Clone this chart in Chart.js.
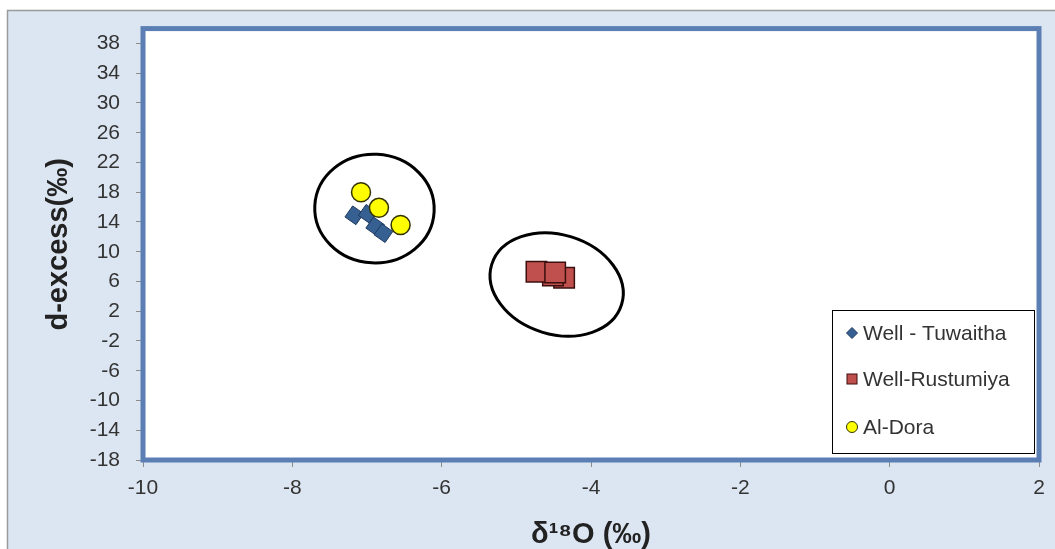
<!DOCTYPE html>
<html>
<head>
<meta charset="utf-8">
<script src="https://cdn.jsdelivr.net/npm/chart.js@4/dist/chart.umd.min.js"></script>
<style>
  html, body { margin: 0; padding: 0; background: #fff; }
  #wrap { width: 1055px; height: 549px; }
</style>
</head>
<body>
<div id="wrap"><canvas id="chart"></canvas></div>
<script>
// values
const seriesNames = ['Well - Tuwaitha', 'Well-Rustumiya', 'Al-Dora'];

const tuwaithaX = [-7.17, -6.99, -6.89, -6.78];
const tuwaithaY = [14.9, 15.1, 13.4, 12.5];

const rustumiyaX = [-4.36, -4.51, -4.73, -4.48];
const rustumiyaY = [6.5, 6.8, 7.3, 7.2];

const doraX = [-7.08, -6.84, -6.55];
const doraY = [18.0, 15.9, 13.6];

const xTicks = [-10, -8, -6, -4, -2, 0, 2];
const yTicks = [-18, -14, -10, -6, -2, 2, 6, 10, 14, 18, 22, 26, 30, 34, 38];

// group ellipses (data units)
const ellipseCx = [-6.90, -4.46];
const ellipseCy = [15.8, 5.6];
const ellipseRx = [0.80, 0.91];
const ellipseRy = [7.3, 6.7];
const ellipseTilt = [0.05, 0.3];

const toPoints = (xs, ys) => xs.map((x, i) => ({ x: x, y: ys[i] }));

const backgroundPlugin = {
  id: 'background',
  beforeDraw(chart) {
    const ctx = chart.ctx;
    const a = chart.chartArea;
    ctx.save();
    ctx.fillStyle = '#ffffff';
    ctx.fillRect(0, 0, chart.width, chart.height);
    ctx.fillStyle = '#dce6f2';
    ctx.fillRect(7, 10, chart.width - 7, chart.height - 10);
    ctx.strokeStyle = '#9a9a9a';
    ctx.lineWidth = 1.5;
    ctx.beginPath();
    ctx.moveTo(7.5, chart.height);
    ctx.lineTo(7.5, 10.5);
    ctx.lineTo(chart.width, 10.5);
    ctx.stroke();
    ctx.fillStyle = '#ffffff';
    ctx.fillRect(a.left, a.top, a.right - a.left, a.bottom - a.top);
    ctx.restore();
  }
};

const ellipsePlugin = {
  id: 'ellipses',
  beforeDatasetsDraw(chart) {
    const ctx = chart.ctx;
    const xs = chart.scales.x, ys = chart.scales.y;
    ctx.save();
    ctx.strokeStyle = '#000';
    ctx.lineWidth = 3;
    ellipseCx.forEach((cx, i) => {
      const px = xs.getPixelForValue(cx);
      const py = ys.getPixelForValue(ellipseCy[i]);
      const rx = Math.abs(xs.getPixelForValue(cx + ellipseRx[i]) - px);
      const ry = Math.abs(ys.getPixelForValue(ellipseCy[i] + ellipseRy[i]) - py);
      ctx.beginPath();
      ctx.ellipse(px, py, rx, ry, ellipseTilt[i], 0, Math.PI * 2);
      ctx.stroke();
    });
    ctx.restore();
  }
};

const frameLegendPlugin = {
  id: 'frameLegend',
  afterDatasetsDraw(chart) {
    const ctx = chart.ctx;
    const a = chart.chartArea;
    ctx.save();
    // plot frame
    ctx.strokeStyle = '#5b7fb4';
    ctx.lineWidth = 5;
    ctx.strokeRect(a.left, a.top, a.right - a.left, a.bottom - a.top);

    // legend box
    const bx = 832.5, by = 310.5, bw = 202, bh = 143;
    ctx.fillStyle = '#fff';
    ctx.fillRect(bx, by, bw, bh);
    ctx.strokeStyle = '#000';
    ctx.lineWidth = 1;
    ctx.strokeRect(bx, by, bw, bh);

    const rows = [333, 379, 427];
    const mx = 852;
    ctx.lineWidth = 1;
    // diamond
    ctx.fillStyle = '#376092';
    ctx.strokeStyle = '#1f3a5f';
    ctx.beginPath();
    ctx.moveTo(mx, rows[0] - 5.5);
    ctx.lineTo(mx + 5.5, rows[0]);
    ctx.lineTo(mx, rows[0] + 5.5);
    ctx.lineTo(mx - 5.5, rows[0]);
    ctx.closePath();
    ctx.fill();
    ctx.stroke();
    // square
    ctx.fillStyle = '#c0504d';
    ctx.strokeStyle = '#3b0f0f';
    ctx.fillRect(mx - 5, rows[1] - 5, 10, 10);
    ctx.strokeRect(mx - 5, rows[1] - 5, 10, 10);
    // circle
    ctx.fillStyle = '#ffff00';
    ctx.strokeStyle = '#333300';
    ctx.beginPath();
    ctx.arc(mx, rows[2], 5.5, 0, Math.PI * 2);
    ctx.fill();
    ctx.stroke();

    ctx.fillStyle = '#333';
    ctx.font = '21px "Liberation Sans", Arial, sans-serif';
    ctx.textBaseline = 'middle';
    ctx.textAlign = 'left';
    seriesNames.forEach((name, i) => ctx.fillText(name, 863, rows[i] + 1));
    ctx.restore();
  }
};

const tickFont = { family: '"Liberation Sans", Arial, sans-serif', size: 21 };
const titleFont = { family: '"Liberation Sans", Arial, sans-serif', size: 29, weight: 'bold', lineHeight: 1 };

new Chart(document.getElementById('chart'), {
  type: 'scatter',
  data: {
    datasets: [
      {
        label: seriesNames[0],
        data: toPoints(tuwaithaX, tuwaithaY),
        pointStyle: 'rect',
        rotation: 35,
        radius: 9.5,
        backgroundColor: '#376092',
        borderColor: '#1f3a5f',
        borderWidth: 1,
        order: 1
      },
      {
        label: seriesNames[1],
        data: toPoints(rustumiyaX, rustumiyaY),
        pointStyle: 'rect',
        radius: 14.5,
        backgroundColor: '#c0504d',
        borderColor: '#3b0f0f',
        borderWidth: 1.5,
        order: 2
      },
      {
        label: seriesNames[2],
        data: toPoints(doraX, doraY),
        pointStyle: 'circle',
        radius: 9.5,
        backgroundColor: '#ffff00',
        borderColor: '#333300',
        borderWidth: 1.5,
        order: 0
      }
    ]
  },
  options: {
    responsive: true,
    maintainAspectRatio: false,
    animation: false,
    events: [],
    layout: { padding: { top: 24, right: 14, left: 0, bottom: 0 } },
    plugins: {
      legend: { display: false },
      tooltip: { enabled: false }
    },
    scales: {
      x: {
        type: 'linear',
        min: -10,
        max: 2,
        afterBuildTicks: s => { s.ticks = xTicks.map(v => ({ value: v })); },
        afterFit: s => { s.height = 89; },
        grid: { drawOnChartArea: false, tickLength: 7, color: '#8c8c8c' },
        border: { display: false },
        ticks: { color: '#333', font: tickFont, padding: 9, maxRotation: 0 },
        title: { display: true, text: 'δ¹⁸O (‰)', color: '#222', font: titleFont, padding: { top: 0, bottom: 0 } }
      },
      y: {
        type: 'linear',
        min: -18,
        max: 40,
        afterBuildTicks: s => { s.ticks = yTicks.map(v => ({ value: v })); },
        afterFit: s => { s.width = 143; },
        grid: { drawOnChartArea: false, tickLength: 7, color: '#8c8c8c' },
        border: { display: false },
        ticks: { color: '#333', font: tickFont, padding: 16 },
        title: { display: true, text: 'd-excess(‰)', color: '#222', font: titleFont, padding: { top: 44, bottom: 0 } }
      }
    }
  },
  plugins: [backgroundPlugin, ellipsePlugin, frameLegendPlugin]
});
</script>
</body>
</html>
